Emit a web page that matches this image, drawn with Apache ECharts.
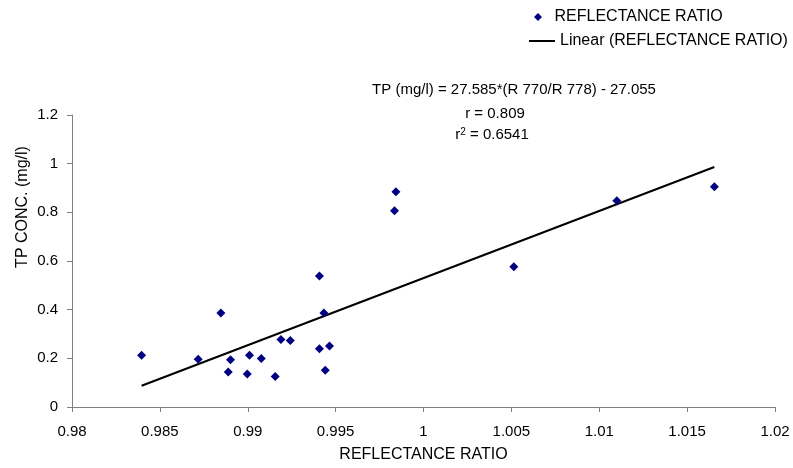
<!DOCTYPE html>
<html><head><meta charset="utf-8">
<script src="https://cdn.jsdelivr.net/npm/echarts@6/dist/echarts.min.js"></script>
<style>html,body{margin:0;padding:0;background:#fff}#c{width:793px;height:468px}</style>
</head><body><div id="c"></div>
<script>
const ratioValues = [0.98396,0.98718,0.98847,0.98902,0.98889,0.98997,0.99010,0.99077,0.99156,0.99189,0.99242,0.99408,0.99408,0.99433,0.99441,0.99465,0.99843,0.99835,1.00514,1.0110,1.01655];
const tpValues = [0.213,0.196,0.386,0.194,0.144,0.136,0.213,0.199,0.125,0.277,0.273,0.538,0.239,0.386,0.151,0.251,0.885,0.807,0.576,0.848,0.905];
const slope = 27.585;
const intercept = -27.055;
const seriesName = 'REFLECTANCE RATIO';
const trendName = 'Linear (REFLECTANCE RATIO)';
const xTitle = 'REFLECTANCE RATIO';
const yTitle = 'TP CONC. (mg/l)';
const eqLines = ['TP (mg/l) = 27.585*(R 770/R 778) - 27.055', 'r = 0.809'];
const r2Value = '0.6541';

const pts = ratioValues.map((x, i) => [x, tpValues[i]]);
const xMin = Math.min(...ratioValues), xMax = Math.max(...ratioValues);
const trend = [[xMin, slope * xMin + intercept], [xMax, slope * xMax + intercept]];

const font = 'Liberation Sans, Arial, sans-serif';
const chart = echarts.init(document.getElementById('c'));
chart.setOption({
  animation: false,
  textStyle: {fontFamily: font},
  grid: {left: 72, right: 18, top: 115, bottom: 61},
  legend: [
    {left: 529, top: 4, itemWidth: 23, itemHeight: 8, symbolKeepAspect: true,
     textStyle: {fontSize: 16, color: '#000', fontFamily: font},
     data: [{name: seriesName, icon: 'path://M5,0L10,5L5,10L0,5Z', itemStyle: {color: '#000080', opacity: 1}}]},
    {left: 524, top: 28, itemWidth: 26, itemHeight: 2,
     textStyle: {fontSize: 16, color: '#000', fontFamily: font},
     data: [{name: trendName, icon: 'rect', itemStyle: {color: '#000'}}]}
  ],
  xAxis: {
    type: 'value', min: 0.98, max: 1.02, interval: 0.005,
    name: xTitle, nameLocation: 'middle', nameGap: 40,
    nameTextStyle: {fontSize: 16, color: '#000', fontFamily: font},
    axisLine: {show: true, lineStyle: {color: '#808080'}},
    axisTick: {show: true, length: 5, lineStyle: {color: '#808080'}},
    axisLabel: {fontSize: 15, color: '#000', margin: 17},
    splitLine: {show: false}
  },
  yAxis: {
    type: 'value', min: 0, max: 1.2, interval: 0.2,
    axisLine: {show: true, lineStyle: {color: '#808080'}},
    axisTick: {show: true, length: 5, lineStyle: {color: '#808080'}},
    axisLabel: {fontSize: 15, color: '#000', margin: 14},
    splitLine: {show: false}
  },
  series: [
    {name: seriesName, type: 'scatter', data: pts, symbol: 'diamond', symbolSize: 9,
     itemStyle: {color: '#000080', opacity: 1}, z: 3},
    {name: trendName, type: 'line', data: trend, symbol: 'none', showSymbol: false,
     lineStyle: {color: '#000', width: 2}, itemStyle: {color: '#000'}, z: 2}
  ],
  graphic: [
    {type: 'text', x: 23, y: 207, rotation: Math.PI / 2,
     style: {text: yTitle, font: '16px ' + font, fill: '#000', textAlign: 'center', textVerticalAlign: 'middle'}},
    {type: 'text', x: 514, y: 90, style: {text: eqLines[0], font: '15px ' + font, fill: '#000', textAlign: 'center', textVerticalAlign: 'middle'}},
    {type: 'text', x: 495, y: 114, style: {text: eqLines[1], font: '15px ' + font, fill: '#000', textAlign: 'center', textVerticalAlign: 'middle'}},
    {type: 'text', x: 492, y: 135, style: {
      text: '{a|r}{s|2}{a| = ' + r2Value + '}', fill: '#000', textAlign: 'center', textVerticalAlign: 'middle',
      rich: {a: {fontSize: 15, fontFamily: font, fill: '#000'}, s: {fontSize: 10, fontFamily: font, fill: '#000', verticalAlign: 'top', padding: [0,0,6,0]}}
    }}
  ]
});
</script></body></html>
